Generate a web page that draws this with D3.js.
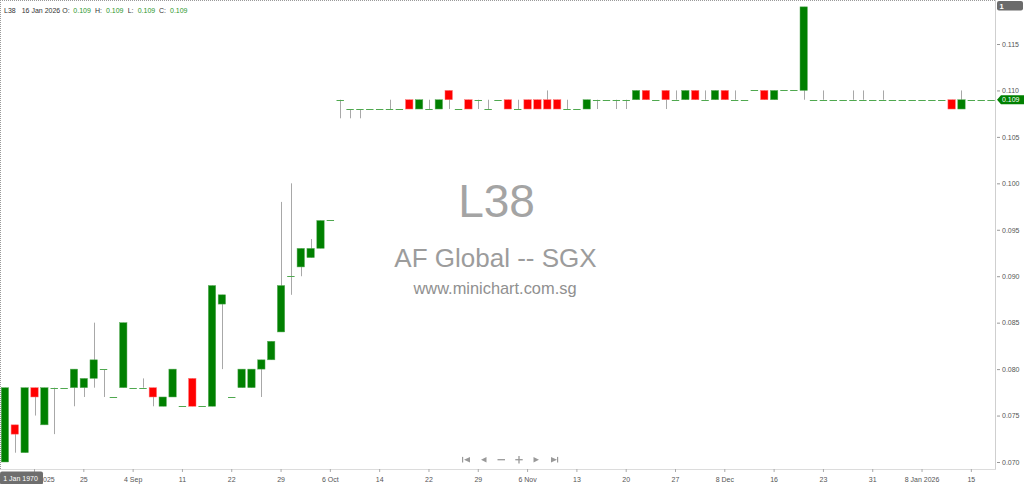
<!DOCTYPE html>
<html><head><meta charset="utf-8">
<script src="https://cdn.jsdelivr.net/npm/d3@7"></script>
<style>body{margin:0;background:#fff;overflow:hidden}svg{display:block}</style>
</head><body>
<svg id="c" width="1024" height="484"></svg>
<script>
// ---- data (one entry per trading bar, oldest first) ----
const opens = [
 .070,.074,.071,.078,.074,.078,.078,.078,.078,.079,
 .080,.077,.078,.078,.078,.078,.076,.077,.076,.079,
 .076,.076,.087,.077,.078,.078,.080,.081,.084,.090,
 .091,.092,.093,.096,.109,.108,.108,.108,.108,.108,
 .108,.109,.108,.108,.108,.110,.108,.109,.109,.108,
 .109,.109,.108,.109,.109,.109,.109,.108,.108,.108,
 .109,.109,.109,.109,.109,.110,.109,.110,.109,.109,
 .110,.109,.109,.110,.109,.109,.110,.110,.109,.110,
 .110,.110,.109,.109,.109,.109,.109,.109,.109,.109,
 .109,.109,.109,.109,.109,.109,.109,.108,.109,.109,.109];
const highs = [
 .078,.074,.078,.078,.078,.078,.078,.080,.079,.085,
 .080,.077,.085,.078,.079,.078,.077,.080,.076,.079,
 .076,.089,.088,.077,.080,.080,.081,.083,.098,.100,
 .093,.094,.096,.096,.109,.108,.108,.108,.108,.109,
 .108,.109,.109,.109,.109,.110,.108,.109,.109,.109,
 .109,.109,.109,.109,.109,.110,.109,.109,.108,.109,
 .109,.109,.109,.109,.110,.110,.109,.110,.110,.110,
 .110,.110,.110,.110,.110,.109,.110,.110,.110,.110,
 .110,.119,.109,.110,.109,.109,.110,.110,.109,.110,
 .109,.109,.109,.109,.109,.109,.109,.110,.109,.109,.109];
const lows = [
 .070,.071,.071,.075,.074,.073,.078,.076,.077,.078,
 .077,.077,.078,.078,.078,.076,.076,.077,.076,.076,
 .076,.076,.080,.077,.078,.078,.077,.081,.084,.088,
 .090,.092,.093,.096,.107,.107,.107,.108,.108,.108,
 .108,.108,.108,.108,.108,.108,.108,.108,.108,.108,
 .109,.108,.108,.108,.108,.108,.108,.108,.108,.108,
 .108,.109,.108,.108,.109,.109,.109,.108,.109,.109,
 .109,.109,.109,.109,.109,.109,.110,.109,.109,.110,
 .110,.109,.109,.109,.109,.109,.109,.109,.109,.109,
 .109,.109,.109,.109,.109,.109,.108,.108,.109,.109,.109];
const closes = [
 .078,.073,.078,.077,.078,.078,.078,.080,.079,.081,
 .080,.077,.085,.078,.078,.077,.077,.080,.076,.076,
 .076,.089,.088,.077,.080,.080,.081,.083,.089,.090,
 .093,.093,.096,.096,.109,.108,.108,.108,.108,.108,
 .108,.108,.109,.108,.109,.109,.108,.108,.109,.108,
 .109,.108,.108,.108,.108,.108,.108,.108,.108,.109,
 .109,.109,.109,.109,.110,.109,.109,.109,.109,.110,
 .109,.109,.110,.109,.109,.109,.110,.109,.110,.110,
 .110,.119,.109,.109,.109,.109,.109,.109,.109,.109,
 .109,.109,.109,.109,.109,.109,.108,.109,.109,.109,.109];
const tickBars   = [3, 8, 13, 18, 23, 28, 33, 38, 43, 48, 53, 58, 63, 68, 73, 78, 83, 88, 93, 98];
const tickLabels = ["2025","25","4 Sep","11","22","29","6 Oct","14","22","29","6 Nov","13","20","27","8 Dec","16","23","31","8 Jan 2026","15"];
const priceTicks = [0.070,0.075,0.080,0.085,0.090,0.095,0.100,0.105,0.110,0.115];
const symbol = "L38", company = "AF Global -- SGX", site = "www.minichart.com.sg";
const lastDate = "16 Jan 2026", lastPrice = 0.109, cursorDate = "1 Jan 1970";

// ---- drawing ----
const svg = d3.select("#c");
const FONT = "'Liberation Sans', Arial, sans-serif";
const plotR = 996, axisY = 469;
const bars = d3.range(opens.length);
const x = d3.scaleBand().domain(bars).range([0, plotR]).paddingInner(0);
const y = d3.scaleLinear().domain([0.070, 0.115]).range([462, 44]);
const bw = x.bandwidth() * 0.75;
const cx = i => x(i) + x.bandwidth() / 2;
const fmt = d3.format(".3f");

// borders
svg.append("line").attr("x1",0).attr("x2",plotR).attr("y1",0.5).attr("y2",0.5)
  .attr("stroke","#9a9a9a").attr("stroke-dasharray","1,1");
svg.append("line").attr("x1",0.5).attr("x2",0.5).attr("y1",0).attr("y2",axisY)
  .attr("stroke","#9a9a9a").attr("stroke-dasharray","1,1");

// watermark
svg.append("text").attr("x",496.5).attr("y",217).attr("text-anchor","middle")
  .attr("font-family",FONT).attr("font-size",46).attr("fill","#a4a4a4").text(symbol);
svg.append("text").attr("x",495.5).attr("y",267).attr("text-anchor","middle")
  .attr("font-family",FONT).attr("font-size",26).attr("fill","#9c9c9c").text(company);
svg.append("text").attr("x",495).attr("y",294).attr("text-anchor","middle")
  .attr("font-family",FONT).attr("font-size",16.4).attr("fill","#909090").text(site);

// candles
const g = svg.append("g");
g.selectAll("line.wick").data(bars.filter(i => highs[i] !== lows[i])).join("line")
  .attr("class","wick")
  .attr("x1", i => Math.round(cx(i)) + 0.5).attr("x2", i => Math.round(cx(i)) + 0.5)
  .attr("y1", i => y(highs[i])).attr("y2", i => y(lows[i]))
  .attr("stroke","#a8a8a8").attr("stroke-width",1);
g.selectAll("rect.body").data(bars.filter(i => opens[i] !== closes[i])).join("rect")
  .attr("class","body")
  .attr("x", i => cx(i) - bw/2).attr("width", bw)
  .attr("y", i => y(Math.max(opens[i], closes[i])))
  .attr("height", i => Math.abs(y(opens[i]) - y(closes[i])))
  .attr("fill", i => closes[i] > opens[i] ? "#008000" : "#ff0000")
  .attr("stroke", i => closes[i] > opens[i] ? "#5fae5f" : "#ff7070").attr("stroke-width",0.5);
g.selectAll("line.flat").data(bars.filter(i => opens[i] === closes[i])).join("line")
  .attr("class","flat")
  .attr("x1", i => cx(i) - bw/2).attr("x2", i => cx(i) + bw/2)
  .attr("y1", i => Math.round(y(closes[i])) + 0.5).attr("y2", i => Math.round(y(closes[i])) + 0.5)
  .attr("stroke","#4fa84f").attr("stroke-width",1);

// right price axis
svg.append("line").attr("x1",plotR-0.5).attr("x2",plotR-0.5).attr("y1",0).attr("y2",axisY)
  .attr("stroke","#cfcfcf");
const yAxis = d3.axisRight(y).tickValues(priceTicks).tickFormat(fmt).tickSize(3).tickPadding(2);
const ya = svg.append("g").attr("transform",`translate(${plotR+1},0)`).call(yAxis);
ya.select(".domain").remove();
ya.selectAll(".tick line").attr("stroke","#999");
ya.selectAll(".tick text").attr("font-family",FONT).attr("font-size",7).attr("fill","#555");

// bottom time axis
svg.append("line").attr("x1",0).attr("x2",plotR).attr("y1",axisY+0.5).attr("y2",axisY+0.5)
  .attr("stroke","#dcdcdc");
const xAxis = d3.axisBottom(x).tickValues(tickBars)
  .tickFormat(i => tickLabels[tickBars.indexOf(i)]).tickSize(3).tickPadding(5);
const xa = svg.append("g").attr("transform",`translate(0,${axisY})`).call(xAxis);
xa.select(".domain").remove();
xa.selectAll(".tick line").attr("stroke","#aaa");
xa.selectAll(".tick text").attr("font-family",FONT).attr("font-size",7).attr("fill","#555");
// first label is partly hidden behind the cursor-date box in the reference: keep only its visible year, right-aligned
xa.selectAll(".tick text").filter(i => i === tickBars[0])
  .attr("text-anchor","end").attr("x", 54.7 - cx(tickBars[0]));

// left cursor date box
svg.append("rect").attr("x",0).attr("y",471.5).attr("width",43).attr("height",13).attr("rx",2)
  .attr("fill","#6e6e6e");
svg.append("text").attr("x",20.5).attr("y",480.5).attr("text-anchor","middle")
  .attr("font-family",FONT).attr("font-size",7).attr("fill","#fff").text(cursorDate);

// last price tag
const ly = y(lastPrice);
svg.append("path").attr("d",`M${plotR+1},${ly} L${plotR+5},${ly-4.5} L1024,${ly-4.5} L1024,${ly+4.5} L${plotR+5},${ly+4.5} Z`)
  .attr("fill","#008000");
svg.append("text").attr("x",plotR+6).attr("y",ly+2.5).attr("font-family",FONT).attr("font-size",7)
  .attr("fill","#fff").text(fmt(lastPrice));

// top-right box
svg.append("rect").attr("x",997).attr("y",1).attr("width",26).attr("height",9.5).attr("rx",2)
  .attr("fill","#6b6b6b");
svg.append("text").attr("x",999.5).attr("y",8.5).attr("font-family",FONT).attr("font-size",7.5)
  .attr("font-weight","bold").attr("fill","#fff").text("1");

// header
const hdr = [
  {t:symbol,x:4,c:"#333"},{t:lastDate,x:21.7,c:"#333"},
  {t:"O:",x:62.3,c:"#333"},{t:fmt(opens[opens.length-1]),x:73.3,c:"#2b962b"},
  {t:"H:",x:95,c:"#333"},{t:fmt(highs[highs.length-1]),x:106,c:"#2b962b"},
  {t:"L:",x:127.7,c:"#333"},{t:fmt(lows[lows.length-1]),x:137.7,c:"#2b962b"},
  {t:"C:",x:159,c:"#333"},{t:fmt(closes[closes.length-1]),x:170,c:"#2b962b"}];
svg.selectAll("text.hdr").data(hdr).join("text").attr("class","hdr")
  .attr("x",d=>d.x).attr("y",12.7).attr("font-family",FONT).attr("font-size",7)
  .attr("fill",d=>d.c).text(d=>d.t);

// navigation buttons
const nav = svg.append("g").attr("fill","#999").attr("stroke","#999");
const ny = 459.7;
nav.append("rect").attr("x",462).attr("y",ny-2.8).attr("width",1.2).attr("height",5.6).attr("stroke","none");
nav.append("path").attr("d",`M470,${ny-2.8} L470,${ny+2.8} L464,${ny} Z`).attr("stroke","none");
nav.append("path").attr("d",`M486.5,${ny-2.8} L486.5,${ny+2.8} L481,${ny} Z`).attr("stroke","none");
nav.append("line").attr("x1",497.5).attr("x2",505).attr("y1",ny).attr("y2",ny).attr("stroke-width",1.3);
nav.append("line").attr("x1",515.3).attr("x2",522.7).attr("y1",ny).attr("y2",ny).attr("stroke-width",1.3);
nav.append("line").attr("x1",519).attr("x2",519).attr("y1",ny-3.7).attr("y2",ny+3.7).attr("stroke-width",1.3);
nav.append("path").attr("d",`M533.5,${ny-2.8} L533.5,${ny+2.8} L539,${ny} Z`).attr("stroke","none");
nav.append("path").attr("d",`M551,${ny-2.8} L551,${ny+2.8} L557,${ny} Z`).attr("stroke","none");
nav.append("rect").attr("x",557).attr("y",ny-2.8).attr("width",1.2).attr("height",5.6).attr("stroke","none");
</script>
</body></html>
